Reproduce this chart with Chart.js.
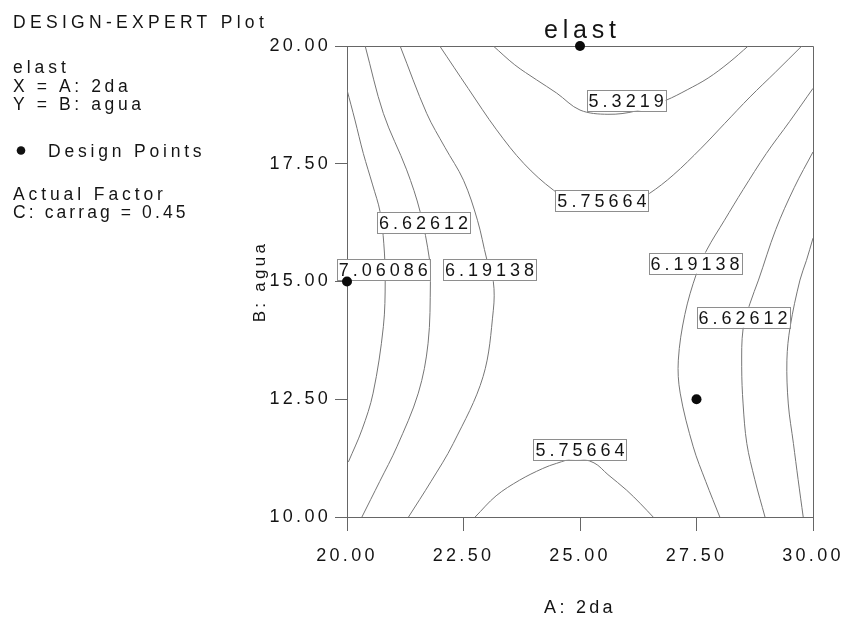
<!DOCTYPE html>
<html>
<head>
<meta charset="utf-8">
<script src="https://cdn.jsdelivr.net/npm/chart.js@4.4.1/dist/chart.umd.min.js"></script>
<style>
  html, body { margin: 0; padding: 0; background: #fff; }
  canvas { display: block; }
</style>
</head>
<body>
<canvas id="chart-1" width="845" height="619"></canvas>
<script>
// axes
const xTicks = [20, 22.5, 25, 27.5, 30];
const xTickLabels = ["20.00", "22.50", "25.00", "27.50", "30.00"];
const yTicks = [10, 12.5, 15, 17.5, 20];
const yTickLabels = ["10.00", "12.50", "15.00", "17.50", "20.00"];

// design points (A: 2da, B: agua)
const designX = [25, 20, 27.5];
const designY = [20, 15, 12.5];

// contour lines, [A, B]
const c5322 = [[23.14, 20], [23.6, 19.6], [24.07, 19.28], [24.5, 19.0], [25.0, 18.64], [25.6, 18.55], [26.2, 18.62], [26.85, 18.85], [27.3, 19.07], [27.75, 19.32], [28.2, 19.65], [28.61, 20]];
const c5757Top = [[21.99, 20], [22.6, 19.1], [23.21, 18.22], [23.8, 17.5], [24.43, 16.94], [25.0, 16.6], [25.5, 16.5], [26.0, 16.6], [26.49, 16.87], [27.0, 17.26], [27.6, 17.83], [28.1, 18.35], [28.65, 18.92], [29.2, 19.45], [29.76, 20]];
const c5757Bot = [[22.75, 10], [23.2, 10.45], [23.7, 10.78], [24.2, 11.03], [24.5, 11.14], [24.9, 11.24], [25.3, 11.15], [25.6, 10.9], [26.0, 10.57], [26.3, 10.28], [26.57, 10]];
const c6191Left = [[21.14, 20], [21.71, 18.57], [22.1, 17.85], [22.5, 17.15], [22.8, 16.3], [23.0, 15.47], [23.14, 15.0], [23.14, 14.39], [22.92, 12.98], [22.28, 11.56], [21.8, 10.75], [21.32, 10]];
const c6191Right = [[30.0, 19.1], [29.5, 18.4], [29.0, 17.72], [28.5, 16.95], [28.1, 16.3], [27.72, 15.67], [27.5, 15.17], [27.25, 14.3], [27.11, 13.33], [27.15, 12.63], [27.43, 11.49], [27.7, 10.75], [28.0, 10]];
const c6626Left = [[20.39, 20], [20.78, 18.57], [21.28, 17.37], [21.57, 16.48], [21.77, 15.47], [21.79, 15.0], [21.74, 13.69], [21.53, 12.63], [21.07, 11.49], [20.7, 10.75], [20.32, 10]];
const c6626Right = [[30.0, 17.75], [29.6, 17.0], [29.2, 16.1], [28.83, 15.03], [28.65, 14.54], [28.5, 14.0], [28.47, 13.19], [28.5, 12.4], [28.58, 11.56], [28.75, 10.8], [28.97, 10]];
const c7061Left = [[20.0, 19.07], [20.17, 18.43], [20.35, 17.72], [20.55, 17.05], [20.71, 16.48], [20.79, 15.8], [20.82, 15.03], [20.78, 14.04], [20.56, 12.63], [20.32, 11.85], [20.03, 11.17]];
const c7061Right = [[30.0, 15.92], [29.86, 15.45], [29.72, 15.03], [29.51, 14.04], [29.44, 13.33], [29.47, 12.4], [29.58, 11.56], [29.68, 10.8], [29.79, 10]];

// contour labels
const labelText = ["5.3219", "5.75664", "6.62612", "7.06086", "6.19138", "6.19138", "6.62612", "5.75664"];
const labelX = [25.99, 25.47, 21.64, 20.78, 23.06, 27.47, 28.5, 25.0];
const labelY = [18.85, 16.72, 16.25, 15.25, 15.25, 15.39, 14.24, 11.44];

const FONT = '"Liberation Sans", Arial, sans-serif';

function spacedText(ctx, text, x, y, size, spacing, align) {
  ctx.save();
  ctx.font = size + "px " + FONT;
  ctx.letterSpacing = spacing + "px";
  ctx.fillStyle = "#141414";
  ctx.textAlign = "left";
  ctx.textBaseline = "alphabetic";
  const w = ctx.measureText(text).width - spacing;
  const x0 = align === "center" ? x - w / 2 : x;
  ctx.fillText(text, x0, y);
  ctx.restore();
  return w;
}

const annotate = {
  id: "annotate",
  beforeDraw(chart) {
    chart.ctx.letterSpacing = "3.3px";
  },
  beforeDatasetsDraw(chart) {
    const { ctx, chartArea: a } = chart;
    ctx.save();
    ctx.strokeStyle = "#666";
    ctx.lineWidth = 1;
    ctx.beginPath();
    ctx.moveTo(a.left, a.top + 0.5);
    ctx.lineTo(a.right + 0.5, a.top + 0.5);
    ctx.lineTo(a.right + 0.5, a.bottom);
    ctx.stroke();
    ctx.restore();
  },
  afterDatasetDraw(chart, args) {
    if (args.index !== 1) return;
    const ctx = chart.ctx;
    const xs = chart.scales.x;
    const ys = chart.scales.y;
    ctx.save();
    ctx.font = "18px " + FONT;
    ctx.letterSpacing = "4px";
    labelText.forEach((t, i) => {
      const px = xs.getPixelForValue(labelX[i]);
      const py = ys.getPixelForValue(labelY[i]);
      const w = ctx.measureText(t).width - 4;
      ctx.fillStyle = "#fff";
      ctx.fillRect(px - w / 2 - 2, py - 10.5, w + 4, 21);
      ctx.strokeStyle = "#8e8e8e";
      ctx.lineWidth = 1;
      ctx.strokeRect(Math.round(px - w / 2 - 2) + 0.5, Math.round(py - 10.5) + 0.5, Math.round(w + 4), 21);
      ctx.fillStyle = "#141414";
      ctx.textAlign = "left";
      ctx.textBaseline = "alphabetic";
      ctx.fillText(t, px - w / 2, py + 6.5);
    });
    ctx.restore();
  },
  afterDraw(chart) {
    const ctx = chart.ctx;
    spacedText(ctx, "elast", 580, 38, 25, 4.8, "center");
    spacedText(ctx, "DESIGN-EXPERT Plot", 13, 28, 17.5, 4.3);
    spacedText(ctx, "elast", 13, 72.5, 17.5, 4.0);
    spacedText(ctx, "X = A: 2da", 13, 92, 17.5, 3.6);
    spacedText(ctx, "Y = B: agua", 13, 110, 17.5, 3.6);
    spacedText(ctx, "Design Points", 48, 156.5, 17.5, 3.8);
    spacedText(ctx, "Actual Factor", 13, 200, 17.5, 3.9);
    spacedText(ctx, "C: carrag = 0.45", 13, 218, 17.5, 3.1);
    ctx.save();
    ctx.fillStyle = "#111";
    ctx.beginPath();
    ctx.arc(21, 150.5, 4.3, 0, Math.PI * 2);
    ctx.fill();
    ctx.restore();
  },
};

const contourLines = [c5322, c5757Top, c5757Bot, c6191Left, c6191Right, c6626Left, c6626Right, c7061Left, c7061Right];

const data_1 = {
  datasets: [
    {
      label: "Design Points",
      data: designX.map((x, i) => ({ x: x, y: designY[i] })),
      showLine: false,
      pointRadius: 5,
      pointBackgroundColor: "#0a0a0a",
      pointBorderWidth: 0,
      clip: false,
    },
  ].concat(
    contourLines.map((pts) => ({
      label: "elast",
      data: pts.map((p) => ({ x: p[0], y: p[1] })),
      showLine: true,
      pointRadius: 0,
      borderColor: "#767676",
      borderWidth: 1,
      tension: 0.35,
      fill: false,
    }))
  ),
};

new Chart(document.getElementById("chart-1"), {
  type: "scatter",
  data: data_1,
  plugins: [annotate],
  options: {
    responsive: false,
    animation: false,
    events: [],
    layout: { padding: { left: 0, top: 46, right: 32, bottom: 0 } },
    plugins: {
      legend: { display: false },
      tooltip: { enabled: false },
    },
    scales: {
      x: {
        type: "linear",
        min: 20,
        max: 30,
        afterBuildTicks: (axis) => {
          axis.ticks = xTicks.map((v) => ({ value: v }));
        },
        afterFit: (scale) => {
          scale.height = 102;
          scale.paddingLeft = 0;
          scale.paddingRight = 0;
        },
        ticks: {
          callback: (v, i) => xTickLabels[i],
          font: { family: FONT, size: 18 },
          color: "#141414",
          padding: 14,
          maxRotation: 0,
        },
        grid: { drawOnChartArea: false, tickLength: 14, color: "#666", tickColor: "#666" },
        border: { display: true, color: "#666" },
        title: {
          display: true,
          text: "A: 2da",
          font: { family: FONT, size: 18 },
          color: "#141414",
          padding: { top: 0, bottom: 0 },
        },
      },
      y: {
        type: "linear",
        min: 10,
        max: 20,
        afterBuildTicks: (axis) => {
          axis.ticks = yTicks.map((v) => ({ value: v }));
        },
        afterFit: (scale) => {
          scale.width = 347;
          scale.paddingTop = 0;
          scale.paddingBottom = 0;
        },
        ticks: {
          callback: (v, i) => yTickLabels[i],
          font: { family: FONT, size: 18 },
          color: "#141414",
          padding: 4,
        },
        grid: { drawOnChartArea: false, tickLength: 12, color: "#666", tickColor: "#666" },
        border: { display: true, color: "#666" },
        title: {
          display: true,
          text: "B: agua",
          font: { family: FONT, size: 17 },
          color: "#141414",
          padding: { top: 250, bottom: 0 },
        },
      },
    },
  },
});
</script>
</body>
</html>
